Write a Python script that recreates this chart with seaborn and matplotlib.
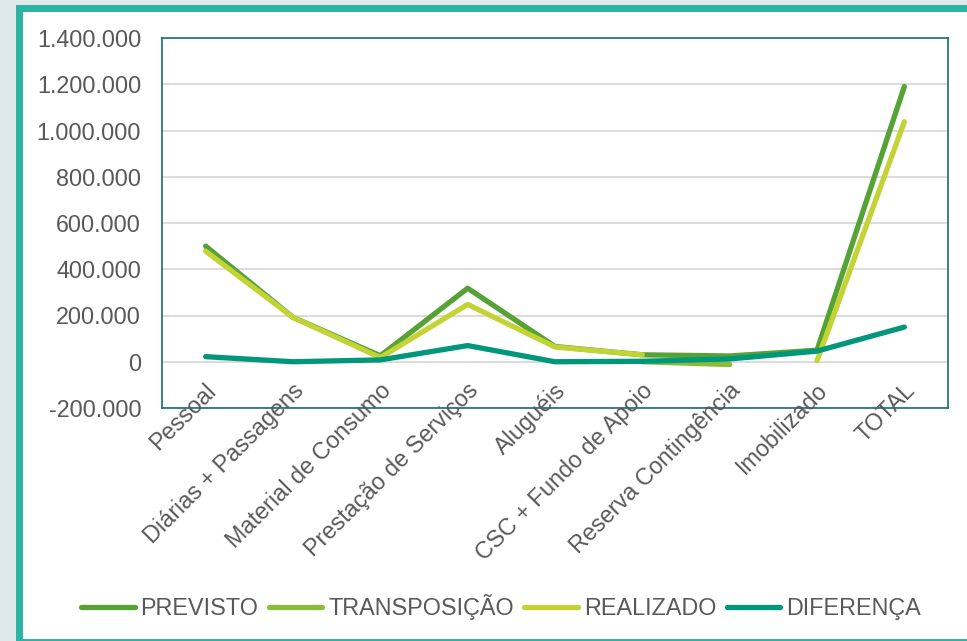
import numpy as np
import pandas as pd
import matplotlib.pyplot as plt
import seaborn as sns
from matplotlib.lines import Line2D
from matplotlib.patches import Rectangle
from matplotlib.transforms import ScaledTranslation

categories = ['Pessoal', 'Diárias + Passagens', 'Material de Consumo',
              'Prestação de Serviços', 'Aluguéis', 'CSC + Fundo de Apoio',
              'Reserva Contingência', 'Imobilizado', 'TOTAL']

previsto      = [500000, 192000, 26000, 318000, 66000, 30000, 25000, 50000, 1190000]
transposicao  = [np.nan, np.nan, np.nan, np.nan, np.nan, 0, -12000, np.nan, np.nan]
realizado     = [478000, 192000, 18000, 248000, 64000, 30000, np.nan, 4000, 1038000]
diferenca     = [22000, 0, 8000, 70000, 0, 2000, 12000, 46000, 150000]

series_names = ['PREVISTO', 'TRANSPOSIÇÃO', 'REALIZADO', 'DIFERENÇA']
colors = ['#56a235', '#8cbb38', '#c3d335', '#00977a']
yticks = [-200000, 0, 200000, 400000, 600000, 800000, 1000000, 1200000, 1400000]

TEXT = '#595959'

# long table, with a segment id so gaps (NaN) stay broken
rows = []
for name, vals in zip(series_names, [previsto, transposicao, realizado, diferenca]):
    seg = 0
    for i, v in enumerate(vals):
        if np.isnan(v):
            seg += 1
            continue
        rows.append({'x': i, 'valor': v, 'serie': name, 'seg': f'{name}-{seg}'})
df = pd.DataFrame(rows)

sns.set_style('white')
plt.rcParams['font.family'] = ['Liberation Sans', 'DejaVu Sans']

fig = plt.figure(figsize=(9.67, 6.41), dpi=100, facecolor='#dfe8eb')
fig.add_artist(Rectangle((18.5 / 967, -1 / 641), 1.2, 1 - 6.5 / 641,
                         transform=fig.transFigure, facecolor='white',
                         edgecolor='#2bb3a3', linewidth=5.0, zorder=0))

ax = fig.add_axes([162 / 967, 1 - 408 / 641, (948 - 162) / 967, (408 - 38) / 641])

sns.lineplot(data=df, x='x', y='valor', hue='serie', units='seg', estimator=None,
             hue_order=series_names, palette=colors, sort=False,
             linewidth=3.8, solid_capstyle='round', legend=False, ax=ax, zorder=3)

ax.set_xlim(-0.5, 8.5)
ax.set_ylim(-200000, 1400000)
ax.set_yticks(yticks)
ax.set_yticklabels([f'{v:,.0f}'.replace(',', '.') for v in yticks])
ax.set_xticks(range(len(categories)))
ax.set_xticklabels([])
ax.set_xlabel('')
ax.set_ylabel('')
ax.tick_params(axis='y', length=0, pad=15, labelsize=16.8, labelcolor=TEXT)
ax.tick_params(axis='x', length=0)
ax.grid(axis='y', color='#d9d9d9', linewidth=1.3)
ax.set_axisbelow(True)
for sp in ax.spines.values():
    sp.set_visible(True)
    sp.set_color('#17706b')
    sp.set_linewidth(1.2)

# category labels sit slightly inside the plot, like the original
off = ScaledTranslation(7 / 100, 21 / 100, fig.dpi_scale_trans)
for i, cat in enumerate(categories):
    ax.text(i, 0, cat, transform=ax.get_xaxis_transform() + off,
            rotation=45, ha='right', va='center', rotation_mode='anchor',
            fontsize=16.8, color=TEXT)

handles = [Line2D([], [], color=c, linewidth=3.8, solid_capstyle='round') for c in colors]
fig.legend(handles, series_names, loc='center', bbox_to_anchor=(501 / 967, 1 - 607 / 641),
           ncol=4, frameon=False, fontsize=16.8, labelcolor=TEXT,
           handlelength=2.3, handletextpad=0.25, columnspacing=0.45)

fig.savefig('out.png', dpi=100, facecolor=fig.get_facecolor())
